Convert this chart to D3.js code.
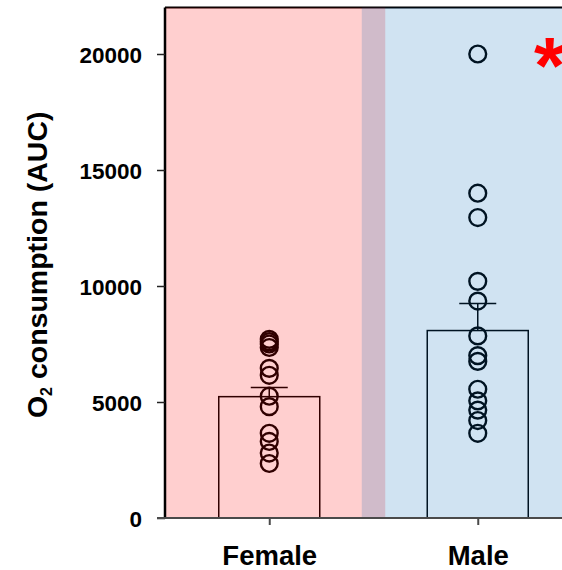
<!DOCTYPE html>
<html>
<head>
<meta charset="utf-8">
<script src="https://cdn.jsdelivr.net/npm/d3@7"></script>
<style>
  html, body { margin: 0; padding: 0; background: #ffffff; }
  svg { display: block; }
  text { font-family: "Liberation Sans", Arial, Helvetica, sans-serif; font-weight: bold; }
</style>
</head>
<body>
<script>
// Groups and their individual O2 consumption values (AUC)
const categories = ["Female", "Male"];
const femaleValues = [7700, 7600, 7500, 7350, 6450, 6150, 5250, 4800, 3650, 3300, 2800, 2350];
const maleValues = [20000, 14000, 12950, 10200, 9350, 7850, 7000, 6750, 5550, 5050, 4650, 4200, 3650];
const groupMeans = [5230, 8080];
const groupSem = [400, 1170];
const yTicks = [0, 5000, 10000, 15000, 20000];
const significance = "*";

const W = 562, H = 570;
const svg = d3.select("body").append("svg")
  .attr("width", W).attr("height", H)
  .style("overflow", "hidden");

const y = d3.scaleLinear().domain([0, 22000]).range([518, 7.6]);
const x = d3.scalePoint().domain(categories).range([165, 582]).padding(0.5);
const barW = 101;
const capW = 37;
const groups = categories.map((c, i) => ({
  name: c,
  values: i === 0 ? femaleValues : maleValues,
  mean: groupMeans[i],
  sem: groupSem[i]
}));

const plot = svg.append("g");

// top frame line
plot.append("line")
  .attr("x1", x.range()[0]).attr("x2", x.range()[1])
  .attr("y1", y(22000)).attr("y2", y(22000))
  .attr("stroke", "#000").attr("stroke-width", 2);

// mean bars
plot.selectAll("rect.bar").data(groups).join("rect")
  .attr("class", "bar")
  .attr("x", d => x(d.name) - barW / 2)
  .attr("width", barW)
  .attr("y", d => y(d.mean))
  .attr("height", d => y(0) - y(d.mean))
  .attr("fill", "none")
  .attr("stroke", "#000")
  .attr("stroke-width", 1.5);

// SEM whiskers (upper half)
plot.selectAll("line.err").data(groups).join("line")
  .attr("class", "err")
  .attr("x1", d => x(d.name)).attr("x2", d => x(d.name))
  .attr("y1", d => y(d.mean)).attr("y2", d => y(d.mean + d.sem))
  .attr("stroke", "#000").attr("stroke-width", 1.5);
plot.selectAll("line.cap").data(groups).join("line")
  .attr("class", "cap")
  .attr("x1", d => x(d.name) - capW / 2).attr("x2", d => x(d.name) + capW / 2)
  .attr("y1", d => y(d.mean + d.sem)).attr("y2", d => y(d.mean + d.sem))
  .attr("stroke", "#000").attr("stroke-width", 1.5);

// individual animals
groups.forEach(g => {
  plot.append("g").selectAll("circle").data(g.values).join("circle")
    .attr("cx", x(g.name))
    .attr("cy", v => y(v))
    .attr("r", 8.4)
    .attr("fill", "none")
    .attr("stroke", "#000")
    .attr("stroke-width", 2.4);
});

// tinted group backgrounds laid over the data
const shadeHalf = 116;
svg.append("rect")
  .attr("x", x.range()[0])
  .attr("width", x("Female") + shadeHalf - x.range()[0])
  .attr("y", y(22000)).attr("height", y(0) - y(22000))
  .attr("fill", "rgb(255,0,0)").attr("fill-opacity", 0.19);
svg.append("rect")
  .attr("x", x("Male") - shadeHalf)
  .attr("width", x.range()[1] - (x("Male") - shadeHalf))
  .attr("y", y(22000)).attr("height", y(0) - y(22000))
  .attr("fill", "rgb(0,103,185)").attr("fill-opacity", 0.184);

// y axis
const yAxis = svg.append("g")
  .attr("transform", `translate(${x.range()[0]},0)`)
  .call(d3.axisLeft(y).tickValues(yTicks).tickSize(8).tickPadding(15).tickFormat(d3.format("d")));
yAxis.select(".domain").attr("stroke", "#000").attr("stroke-width", 2.5)
  .attr("d", `M0,${y(0)}V${y(22000)}`);
yAxis.selectAll(".tick line").attr("stroke", "#222").attr("stroke-width", 1.5);
yAxis.selectAll(".tick text")
  .attr("fill", "#000")
  .style("font-size", "22.5px")
  .style("font-family", "'Liberation Sans', Arial, sans-serif")
  .style("font-weight", "bold")
  .attr("dy", "0.36em");

// x axis
const xAxis = svg.append("g")
  .attr("transform", `translate(0,${y(0)})`)
  .call(d3.axisBottom(x).tickSize(7).tickPadding(20));
xAxis.select(".domain").attr("stroke", "#4a4a4a").attr("stroke-width", 2)
  .attr("d", `M${x.range()[0] - 8},0H${x.range()[1]}`);
xAxis.selectAll(".tick line").attr("stroke", "#4a4a4a").attr("stroke-width", 2);
xAxis.selectAll(".tick text")
  .attr("fill", "#000")
  .attr("dy", "0.71em")
  .style("font-size", "27.5px")
  .style("font-family", "'Liberation Sans', Arial, sans-serif")
  .style("font-weight", "bold");

// y axis title with subscript
const title = svg.append("text")
  .attr("transform", `translate(47,${(y(0) + y(22000)) / 2 + 2}) rotate(-90)`)
  .attr("text-anchor", "middle")
  .style("font-size", "28.5px")
  .attr("fill", "#000");
title.append("tspan").text("O");
title.append("tspan").text("2").style("font-size", "16px").attr("dy", "5");
title.append("tspan").text(" consumption (AUC)").attr("dy", "-5");

// significance marker
svg.append("text")
  .attr("x", 534).attr("y", 93)
  .style("font-size", "80px")
  .attr("fill", "#ff0000")
  .text(significance);
</script>
</body>
</html>
